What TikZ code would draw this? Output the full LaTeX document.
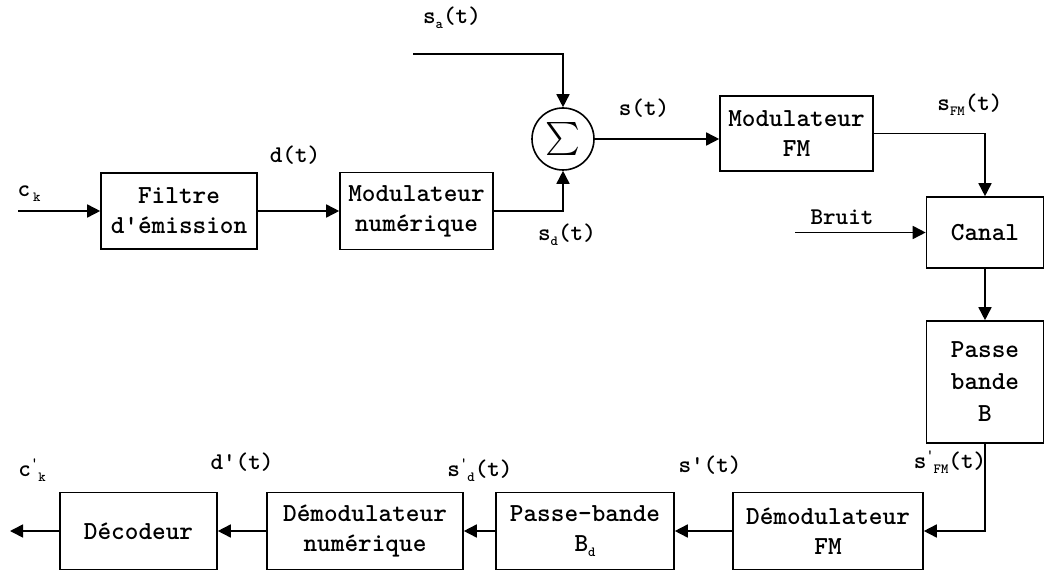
\documentclass[tikz,border=0pt]{standalone}
\usepackage{fontspec}
\usetikzlibrary{arrows.meta}
\newcommand\sbs[1]{\raisebox{-0.45ex}{\fontsize{14}{14}\selectfont\bfseries #1}}
\newcommand\prs{\raisebox{0.9ex}{\fontsize{14}{14}\selectfont\bfseries '}}
\newcommand\boxfont{\fontsize{26}{30}\selectfont\ttfamily\bfseries}
\newcommand\lblfont{\fontsize{24}{28}\selectfont\ttfamily\bfseries}
\begin{document}
\begin{tikzpicture}[x=1pt,y=1pt,
  blk/.style={draw, line width=1.6pt, align=center, inner sep=0pt, font=\boxfont},
  lbl/.style={font=\lblfont, inner sep=0pt},
  conn/.style={line width=1.6pt, -{Triangle[length=13pt,width=13pt]}}]
\useasboundingbox (0,0) rectangle (1047,574);
% blocks
\node[blk, minimum width=156pt, minimum height=76pt] (filtre) at (179,363) {Filtre\\d'émission};
\node[blk, minimum width=153pt, minimum height=77pt] (modnum) at (416.5,363) {Modulateur\\numérique};
\node[draw, circle, line width=1.6pt, minimum size=62pt, inner sep=0pt] (sum) at (563,435) {\scalebox{3.3}{$\sum$}};
\node[blk, minimum width=153pt, minimum height=75pt] (modfm) at (796.5,440.5) {Modulateur\\FM};
\node[blk, minimum width=117pt, minimum height=71pt] (canal) at (985,341.5) {Canal};
\node[blk, minimum width=117pt, minimum height=122pt, font=\fontsize{26}{32}\selectfont\ttfamily\bfseries] (pb) at (985,192) {Passe\\bande\\B};
\node[blk, minimum width=190pt, minimum height=77pt] (demfm) at (828,43) {Démodulateur\\FM};
\node[blk, minimum width=178pt, minimum height=77pt] (pbd) at (585,43) {Passe-bande\\B\sbs{d}};
\node[blk, minimum width=196pt, minimum height=77pt] (demnum) at (365,43) {Démodulateur\\numérique};
\node[blk, minimum width=157pt, minimum height=77pt] (dec) at (138.5,43) {Décodeur};
% free ends
\coordinate (ckin) at (18,363);
\coordinate (sain) at (413,520);
\coordinate (bruitin) at (795,341.5);
\coordinate (ckout) at (10,43);
% connectors
\draw[conn] (ckin) -- (filtre);
\draw[conn] (filtre) -- (modnum);
\draw[conn] (modnum.east) -| (sum.south);
\draw[conn] (sain) -| (sum.north);
\draw[conn] (sum.east) -- (sum.east -| modfm.west);
\draw[conn] (modfm.east) -| (canal.north);
\draw[conn] (bruitin) -- (canal);
\draw[conn] (canal) -- (pb);
\draw[conn] (pb.south) |- (demfm.east);
\draw[conn] (demfm) -- (pbd);
\draw[conn] (pbd) -- (demnum);
\draw[conn] (demnum) -- (dec);
\draw[conn] (dec.west) -- (ckout);
% labels
\node[lbl] (lck) at (29,380) {c\hspace{3pt}\sbs{k}};
\node[lbl] (ldt) at (295,419) {d(t)};
\node[lbl] (lsa) at (452,556) {s\sbs{a}(t)};
\node[lbl] (lst) at (644,466) {s(t)};
\node[lbl] (lsd) at (567,339) {s\sbs{d}(t)};
\node[lbl] (lsfm) at (970,469) {s\sbs{FM}(t)};
\node[lbl] (lbruit) at (842,357) {Bruit};
\node[lbl] (lspfm) at (950,112) {s\prs\sbs{FM}(t)};
\node[lbl] (lspt) at (710,109) {s'(t)};
\node[lbl] (lspd) at (480,104) {s\prs\sbs{d}(t)};
\node[lbl] (ldpt) at (242,112) {d'(t)};
\node[lbl] (lcpk) at (32,104) {c\prs\sbs{k}};
\end{tikzpicture}
\end{document}
